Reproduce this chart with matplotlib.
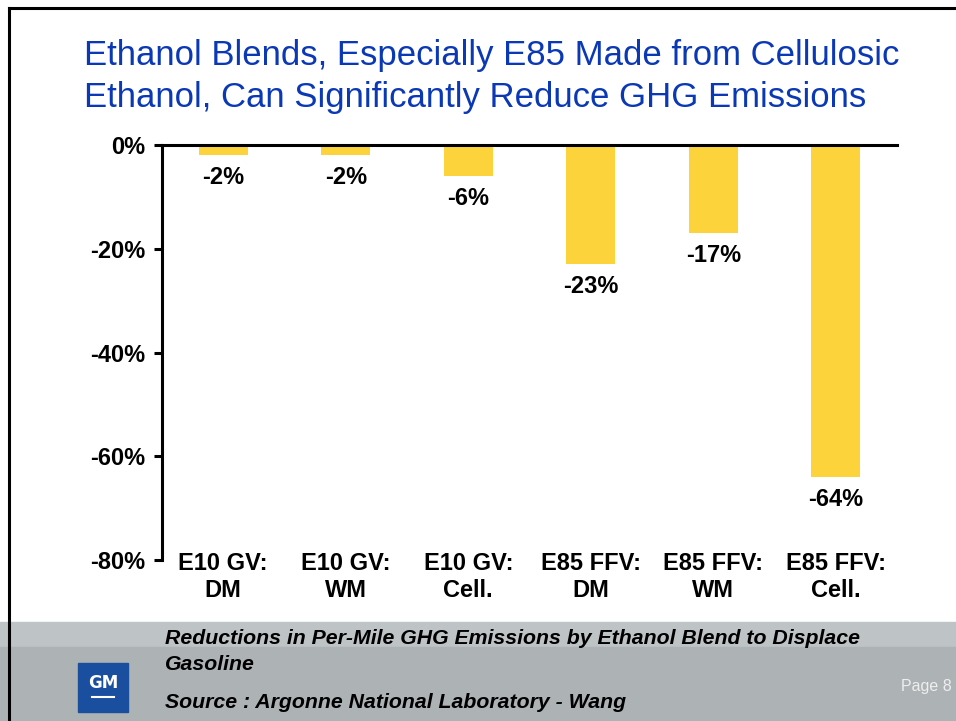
import matplotlib.pyplot as plt
from matplotlib.patches import Rectangle
from matplotlib.lines import Line2D

# data
categories = ["E10 GV:\nDM", "E10 GV:\nWM", "E10 GV:\nCell.",
              "E85 FFV:\nDM", "E85 FFV:\nWM", "E85 FFV:\nCell."]
reductions = [-2, -2, -6, -23, -17, -64]
yticks = [0, -20, -40, -60, -80]

plt.rcParams['font.family'] = ['Liberation Sans', 'DejaVu Sans']

W, H = 956, 721
fig = plt.figure(figsize=(W / 100, H / 100), dpi=100)

# footer bands + slide border
fig.add_artist(Rectangle((0, 0), 1, (H - 622) / H, transform=fig.transFigure,
                         color='#BEC3C5', zorder=0))
fig.add_artist(Rectangle((0, 0), 1, (H - 647) / H, transform=fig.transFigure,
                         color='#ADB2B5', zorder=0))
fig.add_artist(Line2D([9 / W, 9 / W], [0, 1 - 8 / H], transform=fig.transFigure,
                      color='black', lw=2.2))
fig.add_artist(Line2D([9 / W, 1], [1 - 8 / H, 1 - 8 / H], transform=fig.transFigure,
                      color='black', lw=2.2))

# GM logo
fig.add_artist(Rectangle((78 / W, 1 - 712 / H), 50 / W, 49 / H,
                         transform=fig.transFigure, color='#1A4FA0', zorder=1))
fig.text(103 / W, 1 - 683 / H, "GM", color='white', fontsize=12, fontweight='bold',
         ha='center', va='center', family='Liberation Sans Narrow')
fig.add_artist(Line2D([92 / W, 114 / W], [1 - 697 / H, 1 - 697 / H],
                      transform=fig.transFigure, color='white', lw=1.5))

# title
fig.text(84 / W, 1 - 56 / H, "Ethanol Blends, Especially E85 Made from Cellulosic",
         color='#0B38B5', fontsize=25, ha='left', va='center')
fig.text(84 / W, 1 - 97 / H, "Ethanol, Can Significantly Reduce GHG Emissions",
         color='#0B38B5', fontsize=25, ha='left', va='center')

# footer text
foot = dict(fontsize=15.3, fontweight='bold', style='italic', va='center')
fig.text(165 / W, 1 - 638 / H, "Reductions in Per-Mile GHG Emissions by Ethanol Blend to Displace", **foot)
fig.text(165 / W, 1 - 664 / H, "Gasoline", **foot)
fig.text(165 / W, 1 - 703 / H, "Source : Argonne National Laboratory - Wang", **foot)
fig.text(952 / W, 1 - 687 / H, "Page 8", fontsize=11.5, color='#EEEEEE',
         ha='right', va='center')

ax = fig.add_axes([162 / W, 1 - 560 / H, 735 / W, 415 / H])
x = range(len(categories))
ax.bar(x, reductions, width=0.4, color='#FCD33B')
ax.set_xlim(-0.5, len(categories) - 0.5)
ax.set_ylim(-80, 0)

for i, v in zip(x, reductions):
    ax.annotate(f"{v}%", (i, v), xytext=(0, -16), textcoords='offset points',
                ha='center', va='center', fontsize=17, fontweight='bold')

ax.set_yticks(yticks)
ax.set_yticklabels([f"{t}%" for t in yticks], fontsize=17, fontweight='bold')
ax.set_xticks(list(x))
ax.set_xticklabels(categories, fontsize=17, fontweight='bold', linespacing=1.25)
ax.tick_params(axis='x', length=0, pad=-6)
ax.tick_params(axis='y', length=6, width=2.2, pad=6)

for s in ['right', 'bottom']:
    ax.spines[s].set_visible(False)
ax.spines['left'].set_linewidth(2.2)
ax.spines['top'].set_linewidth(2.2)

fig.savefig("out.png", dpi=100)
